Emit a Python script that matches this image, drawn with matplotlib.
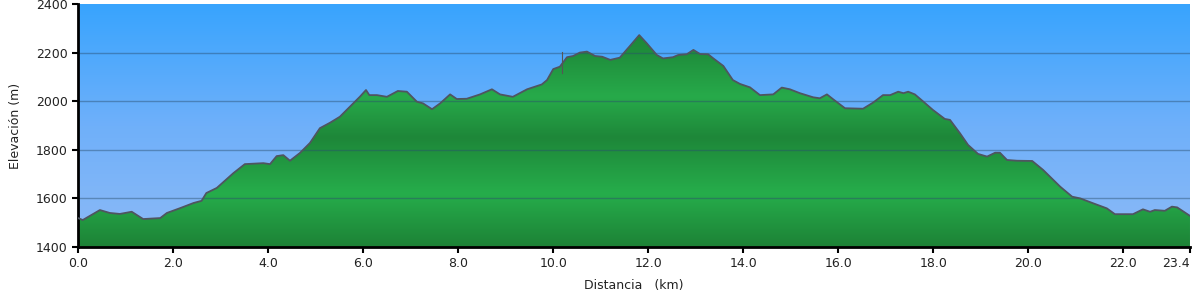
import numpy as np
import matplotlib
matplotlib.use('Agg')
import matplotlib.pyplot as plt
from matplotlib.colors import LinearSegmentedColormap

# elevation profile
dist = [0.0, 0.10, 0.46, 0.67, 0.88, 1.13, 1.37, 1.73, 1.87, 2.15, 2.43, 2.60,
        2.70, 2.92, 3.27, 3.51, 3.90, 4.04, 4.18, 4.32, 4.46, 4.67, 4.88, 5.09,
        5.30, 5.51, 5.72, 5.93, 6.06, 6.13, 6.29, 6.50, 6.73, 6.92, 7.13, 7.26,
        7.45, 7.62, 7.83, 7.97, 8.18, 8.46, 8.71, 8.88, 9.15, 9.45, 9.76, 9.87,
        10.00, 10.14, 10.29, 10.42, 10.56, 10.71, 10.88, 11.03, 11.20, 11.40,
        11.60, 11.81, 11.97, 12.18, 12.31, 12.52, 12.63, 12.81, 12.95, 13.09,
        13.26, 13.37, 13.58, 13.78, 13.93, 14.14, 14.35, 14.63, 14.81, 14.98,
        15.19, 15.47, 15.61, 15.76, 15.89, 16.14, 16.52, 16.73, 16.94, 17.09,
        17.26, 17.37, 17.47, 17.61, 17.79, 17.99, 18.24, 18.35, 18.56, 18.73,
        18.94, 19.13, 19.30, 19.40, 19.55, 19.76, 20.08, 20.31, 20.67, 20.92,
        21.09, 21.36, 21.65, 21.82, 22.20, 22.41, 22.56, 22.66, 22.87, 23.02,
        23.13, 23.40]
elev = [1519, 1511, 1552, 1540, 1536, 1545, 1515, 1519, 1540, 1560, 1581, 1590,
        1622, 1643, 1704, 1741, 1745, 1741, 1774, 1778, 1755, 1787, 1828, 1889,
        1911, 1936, 1977, 2018, 2046, 2025, 2025, 2018, 2042, 2039, 1998, 1991,
        1967, 1991, 2028, 2009, 2010, 2028, 2049, 2028, 2018, 2049, 2069, 2087,
        2132, 2142, 2181, 2186, 2200, 2204, 2186, 2183, 2170, 2179,
        2224, 2272, 2238, 2190, 2176, 2181, 2190, 2193, 2211, 2194,
        2193, 2176, 2145, 2087, 2071, 2057, 2025, 2028, 2056, 2049,
        2033, 2016, 2012, 2028, 2008, 1971, 1969, 1994, 2025, 2025,
        2039, 2033, 2039, 2028, 1998, 1964, 1927, 1923, 1868, 1820,
        1783, 1772, 1788, 1788, 1758, 1755, 1754, 1717, 1648, 1607,
        1600, 1580, 1559, 1535, 1535, 1555, 1545, 1552, 1549, 1566,
        1563, 1528]

x_ticks = [0, 2, 4, 6, 8, 10, 12, 14, 16, 18, 20, 22, 23.4]
y_ticks = [1400, 1600, 1800, 2000, 2200, 2400]
marker_km = 10.19
marker_elev = [2116, 2202]

fig = plt.figure(figsize=(11.95, 3.0), dpi=100)
ax = fig.add_axes([0.0653, 0.1767, 0.9305, 0.81])
ax.set_xlim(0, 23.4)
ax.set_ylim(1400, 2400)

# sky gradient
sky = LinearSegmentedColormap.from_list('sky', ['#8dbaf6', '#6fb0fa', '#38a4fe'])
ax.imshow(np.linspace(0, 1, 256).reshape(-1, 1), cmap=sky, origin='lower',
          extent=[0, 23.4, 1400, 2400], aspect='auto', zorder=0)

# green banded gradient clipped to the profile
green = LinearSegmentedColormap.from_list('green', [
    (0.0, '#1d8236'), (0.22, '#26ad4b'), (0.45, '#1e8739'),
    (0.62, '#27aa4a'), (0.8, '#1f8e3c'), (1.0, '#1b7e34')])
poly = ax.fill_between(dist, elev, 1400, color='none', zorder=1)
im = ax.imshow(np.linspace(0, 1, 256).reshape(-1, 1), cmap=green, origin='lower',
               extent=[0, 23.4, 1400, 2400], aspect='auto', zorder=1)
im.set_clip_path(poly.get_paths()[0], transform=ax.transData)
ax.plot(dist, elev, color='#4f5560', lw=1.3, zorder=3)

for y in y_ticks[1:-1]:
    ax.axhline(y, color='#2a4f6e', lw=1, alpha=0.45, zorder=2)

ax.plot([marker_km, marker_km], marker_elev, color='#555555', lw=0.8, zorder=3)

ax.set_xticks(x_ticks)
ax.set_xticklabels(['%.1f' % t for t in x_ticks])
ax.get_xticklabels()[-1].set_ha('right')
ax.set_yticks(y_ticks)
ax.tick_params(labelsize=9, width=1.5, length=4, color='black', colors='#222222')
for s in ['top', 'right']:
    ax.spines[s].set_visible(False)
for s in ['left', 'bottom']:
    ax.spines[s].set_linewidth(2)

ax.set_xlabel('Distancia   (km)', fontsize=9, color='#222222', labelpad=6)
ax.set_ylabel('Elevación (m)', fontsize=9, color='#222222', labelpad=10)

fig.savefig('out.png', dpi=100)
